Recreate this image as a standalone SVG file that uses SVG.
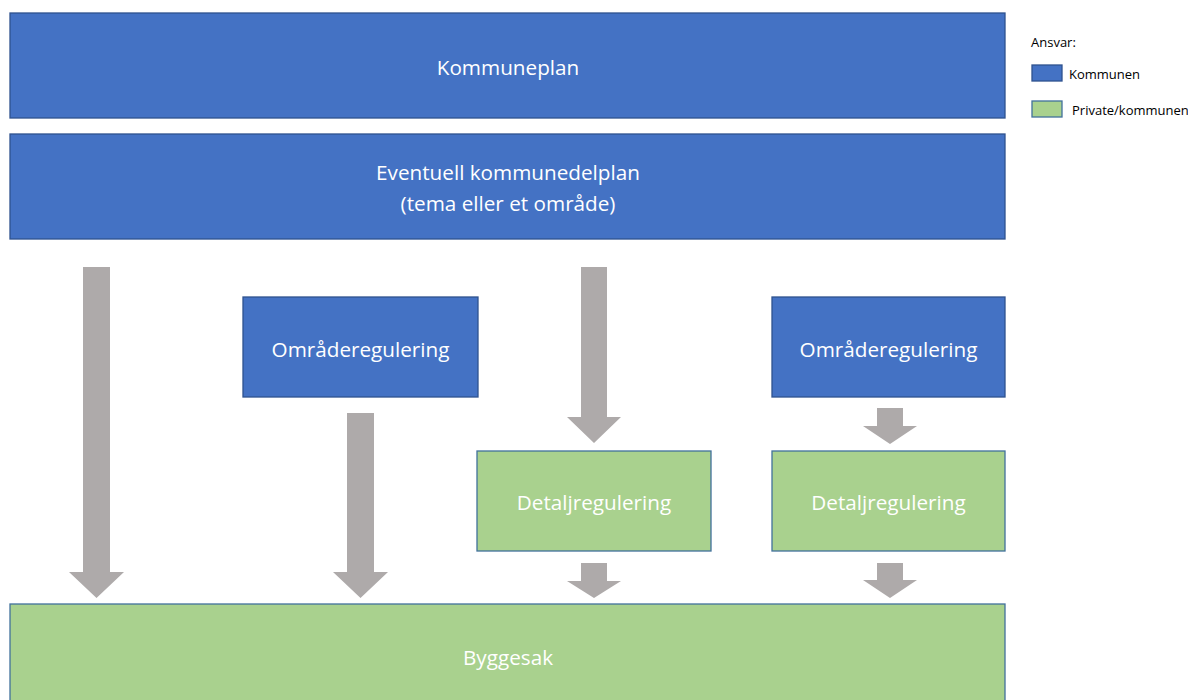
<svg xmlns="http://www.w3.org/2000/svg" width="1188" height="700" viewBox="0 0 1188 700">
<style>
.blue{fill:#4472C4;stroke:#2F528F;stroke-width:1.3}
.green{fill:#A9D18E;stroke:#41719C;stroke-width:1.3}
.lbl{font-family:"Open Sans","Noto Sans",sans-serif;font-size:20.7px;fill:#FFFFFF;text-anchor:middle;dominant-baseline:central}
.leg{font-family:"Open Sans","Noto Sans",sans-serif;font-size:13px;fill:#000000;dominant-baseline:central}
.arrow{fill:#AEAAAA}
</style>
<rect width="1188" height="700" fill="#FFFFFF"/>
<g id="kommuneplan"><rect class="blue" x="10" y="13" width="995" height="105"/><text class="lbl" x="508" y="67">Kommuneplan</text></g>
<g id="kommunedelplan"><rect class="blue" x="10" y="134" width="995" height="105"/><text class="lbl" x="508" y="172">Eventuell kommunedelplan</text><text class="lbl" x="508" y="203">(tema eller et område)</text></g>
<g id="omraade1"><rect class="blue" x="243" y="297" width="235" height="100"/><text class="lbl" x="360.5" y="349">Områderegulering</text></g>
<g id="omraade2"><rect class="blue" x="772" y="297" width="233" height="100"/><text class="lbl" x="888.5" y="349">Områderegulering</text></g>
<g id="detalj1"><rect class="green" x="477" y="451" width="234" height="100"/><text class="lbl" x="594" y="502">Detaljregulering</text></g>
<g id="detalj2"><rect class="green" x="772" y="451" width="233" height="100"/><text class="lbl" x="888.5" y="502">Detaljregulering</text></g>
<g id="byggesak"><rect class="green" x="10" y="604" width="995" height="110"/><text class="lbl" x="508" y="657">Byggesak</text></g>
<g id="legend">
<text class="leg" x="1031" y="42">Ansvar:</text>
<rect class="blue" x="1032" y="65" width="30" height="16"/><text class="leg" x="1069" y="74">Kommunen</text>
<rect class="green" x="1032" y="101" width="30" height="16"/><text class="leg" x="1072" y="110">Private/kommunen</text>
</g>
<g id="connectors">
<polygon class="arrow" points="83,267 110,267 110,572 124,572 96.5,598 69,572 83,572"/>
<polygon class="arrow" points="347,413 374,413 374,572 388,572 360.5,598 333,572 347,572"/>
<polygon class="arrow" points="581,267 607,267 607,417 621,417 594,443 567,417 581,417"/>
<polygon class="arrow" points="581,563 607,563 607,581 621,581 594,598 567,581 581,581"/>
<polygon class="arrow" points="877,408 903,408 903,426 917,426 890,444 863,426 877,426"/>
<polygon class="arrow" points="877,563 903,563 903,580 917,580 890,598 863,580 877,580"/>
</g>
</svg>
